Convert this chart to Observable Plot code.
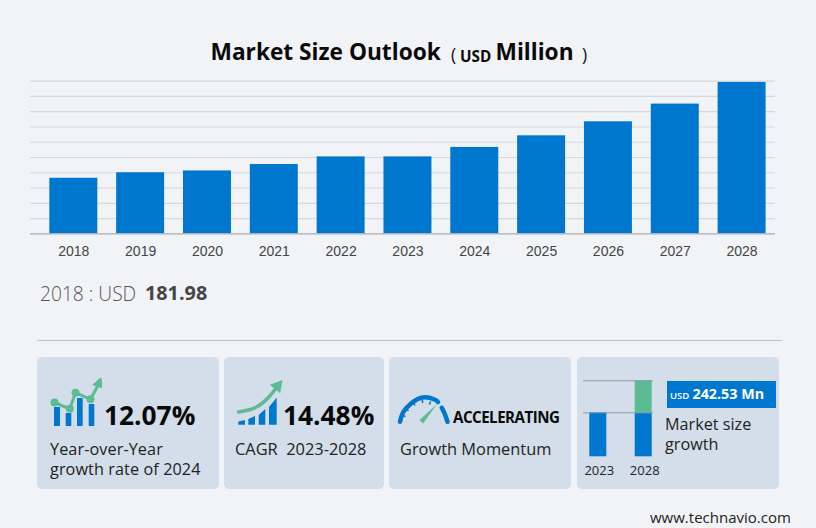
<!DOCTYPE html>
<html>
<head>
<meta charset="utf-8">
<script src="https://cdn.jsdelivr.net/npm/d3@7"></script>
<script src="https://cdn.jsdelivr.net/npm/@observablehq/plot@0.6"></script>
<style>
  html, body { margin: 0; padding: 0; background: #f2f3f6; }
  #page { position: relative; width: 816px; height: 528px; overflow: hidden; font-family: "Open Sans", sans-serif; color: #222; }
  #page > * { position: absolute; }
  .card { background: #d3deea; border-radius: 5px; top: 357px; height: 132px; }
  .t { white-space: nowrap; line-height: 1; }
  .b { font-weight: 700; color: #0a0a0a; }
  svg { display: block; background: transparent; }
</style>
</head>
<body>
<div id="page"></div>
<script>
// chart values
const years = ["2018", "2019", "2020", "2021", "2022", "2023", "2024", "2025", "2026", "2027", "2028"]
const marketSize = [181.98, 200, 206, 227, 252, 252, 283, 321, 367, 425, 496]
const gridValues = [50, 100, 150, 200, 250, 300, 350, 400, 450, 500]

// small chart in the last card
const miniYears = ["2023", "2028"]
const miniBase = [44, 44]
const miniGrowth = [0, 32]

// icon 1: bars and line
const ico1BarLeft = [4, 15.7, 27, 38.7]
const ico1BarRight = [10, 21.3, 32.7, 44.3]
const ico1BarTop = [21, 15, 30, 24]
const ico1LineX = [4, 19.3, 25, 40, 48]
const ico1LineY = [26, 19.7, 35.7, 29.3, 44]

// icon 2: slanted bars and rising curve
const ico2BarId = [0, 0, 1, 1, 2, 2, 3, 3]
const ico2BarX = [2.3, 9, 12.3, 19, 22.7, 29.3, 33, 40.7]
const ico2BarTop = [8.5, 10, 11, 14, 15, 21, 23, 32.5]
const ico2LineX = [2, 19, 32, 40]
const ico2LineY = [18.5, 23, 33, 43]

// icon 3: gauge
const arcX = [3.5, 6.5, 14, 26, 38, 41.5]
const arcY = [4.7, 14, 22.5, 29, 27, 24.5]
const arcRightX = [45.3, 48.5, 51]
const arcRightY = [18.7, 12, 4.7]
const notchX1 = [5.5, 9.5, 17, 26, 34]
const notchY1 = [11, 18, 24, 26.5, 25]
const notchX2 = [9, 12, 18.5, 26, 33]
const notchY2 = [10, 15.5, 21, 23.5, 22]

const BLUE = "#0077cf"
const GREEN = "#5cbb93"
const page = document.getElementById("page")

function put(el, left, top) {
  el.style.left = left + "px"
  el.style.top = top + "px"
  page.append(el)
}

function text(html, left, top, size, cls, extra) {
  const d = document.createElement("div")
  d.className = "t " + (cls || "")
  d.innerHTML = html
  d.style.fontSize = size + "px"
  if (extra) Object.assign(d.style, extra)
  put(d, left, top)
}

function card(left, width) {
  const d = document.createElement("div")
  d.className = "card"
  d.style.width = width + "px"
  d.style.left = left + "px"
  page.append(d)
}

// icon sized plot, one unit is one pixel
function icon(left, top, w, h, marks) {
  put(Plot.plot({
    width: w, height: h, margin: 0,
    x: { domain: [0, w], axis: null },
    y: { domain: [0, h], axis: null },
    style: { background: "transparent" },
    marks
  }), left, top)
}

// title
text('Market Size Outlook', 210.5, 41, 22.7, "b")
text('(', 451, 46, 17.5, "", { color: "#111" })
text('USD', 460, 49, 15.3, "b")
text('Million', 495.5, 41, 22.7, "b")
text(')', 582, 46, 17.5, "", { color: "#111" })

// main chart
put(Plot.plot({
  width: 816, height: 200,
  marginTop: 10.7, marginLeft: 30, marginRight: 41, marginBottom: 36.7,
  x: { type: "band", domain: years, range: [39.9, 775], paddingInner: 0.282, paddingOuter: 0.141, round: false, label: null },
  y: { domain: [0, 500], axis: null },
  style: { background: "transparent" },
  marks: [
    Plot.ruleY(gridValues, { stroke: "#d7d8dd", strokeWidth: 1.2, strokeOpacity: 1 }),
    Plot.barY(years.map((y, i) => ({ year: y, value: marketSize[i] })), { x: "year", y: "value", fill: BLUE }),
    Plot.ruleY([0], { stroke: "#a9abb0", strokeWidth: 1.2 }),
    Plot.axisX({ tickSize: 0, tickPadding: 12, fontSize: 14, fontFamily: "Liberation Sans", color: "#444", label: null })
  ]
}), 0, 70)

text('2018 : USD', 40, 284, 19.2, "", { color: "#555", fontWeight: 300 })
text('181.98', 145, 283, 19.8, "", { color: "#444", fontWeight: 700 })

const divider = document.createElement("div")
Object.assign(divider.style, { width: "745px", height: "1px", background: "#bfc0cf" })
put(divider, 37, 340)

card(37, 182)
card(224, 160)
card(389, 182)
card(577, 202)

// card 1
icon(50, 378, 52, 50, [
  Plot.rect(ico1BarLeft, { x1: (d) => d, x2: (d, i) => ico1BarRight[i], y1: 2, y2: (d, i) => ico1BarTop[i], fill: BLUE }),
  Plot.line(ico1LineX, { x: (d) => d, y: (d, i) => ico1LineY[i], stroke: GREEN, strokeWidth: 3 }),
  Plot.dot(ico1LineX.slice(0, 4), { x: (d) => d, y: (d, i) => ico1LineY[i], r: 4, fill: GREEN }),
  Plot.dot([48.5], { x: (d) => d, y: [45], symbol: "triangle", r: 4.5, rotate: 18, fill: GREEN })
])
text('12.07%', 104, 402, 26.3, "b")
text('Year-over-Year<br>growth rate of 2024', 50, 439, 16.2, "", { lineHeight: "20px", letterSpacing: "0.1px" })

// card 2
icon(236, 380, 50, 50, [
  Plot.areaY(ico2BarX, { x: (d) => d, y1: 5.3, y2: (d, i) => ico2BarTop[i], z: (d, i) => ico2BarId[i], fill: BLUE }),
  Plot.line(ico2LineX, { x: (d) => d, y: (d, i) => ico2LineY[i], curve: "natural", stroke: GREEN, strokeWidth: 3.5 }),
  Plot.dot([41], { x: (d) => d, y: [44.5], symbol: "triangle", r: 5, rotate: 40, fill: GREEN })
])
text('14.48%', 283, 402, 26.3, "b")
text('CAGR&nbsp; 2023-2028', 235, 441, 16.4)

// card 3
icon(396, 394, 54, 32, [
  Plot.line(arcX, { x: (d) => d, y: (d, i) => arcY[i], curve: "natural", stroke: BLUE, strokeWidth: 4.5 }),
  Plot.line(arcRightX, { x: (d) => d, y: (d, i) => arcRightY[i], curve: "natural", stroke: BLUE, strokeWidth: 4.5 }),
  Plot.link(notchX1, { x1: (d) => d, y1: (d, i) => notchY1[i], x2: (d, i) => notchX2[i], y2: (d, i) => notchY2[i], stroke: BLUE, strokeWidth: 1.5 }),
  Plot.area([0, 1], { x1: [23.5, 41], y1: [6, 22], x2: [27, 41], y2: [2.5, 22], fill: GREEN })
])
text('ACCELERATING', 453, 410, 15.1, "b", { letterSpacing: "-0.5px" })
text('Growth Momentum', 400, 441, 16.4)

// card 4
put(Plot.plot({
  width: 100, height: 108, marginTop: 8.3, marginBottom: 23.7, marginLeft: 0, marginRight: 0,
  x: { type: "band", domain: miniYears, range: [5.1, 95.9], paddingInner: 0.626, paddingOuter: 0.313, round: false, label: null },
  y: { domain: [0, 76], axis: null },
  style: { background: "transparent" },
  marks: [
    Plot.barY(miniYears.map((y, i) => ({ year: y, value: miniBase[i] })), { x: "year", y: "value", fill: BLUE }),
    Plot.barY(miniYears.map((y, i) => ({ year: y, value: miniGrowth[i] })), { x: "year", y1: miniBase[1], y2: (d) => miniBase[1] + d.value, fill: GREEN }),
    Plot.ruleY([miniBase[0], miniBase[0] + miniGrowth[1]], { stroke: "#8f9cab", strokeWidth: 1, insetLeft: 13, insetRight: 17 }),
    Plot.axisX({ tickSize: 0, tickPadding: 9, dx: 1, fontSize: 13, fontFamily: "Open Sans", color: "#222", label: null })
  ]
}), 570, 372)

const tag = document.createElement("div")
Object.assign(tag.style, { width: "109px", height: "27px", background: BLUE })
put(tag, 667, 381)
text('USD', 670, 391, 9.5, "", { color: "#fff", fontWeight: 600 })
text('242.53 Mn', 692.5, 387, 14.3, "", { color: "#fff", fontWeight: 700 })
text('Market size<br>growth', 665, 414, 16.2, "", { lineHeight: "20px" })

text('www.technavio.com', 650, 510, 15)
</script>
</body>
</html>
